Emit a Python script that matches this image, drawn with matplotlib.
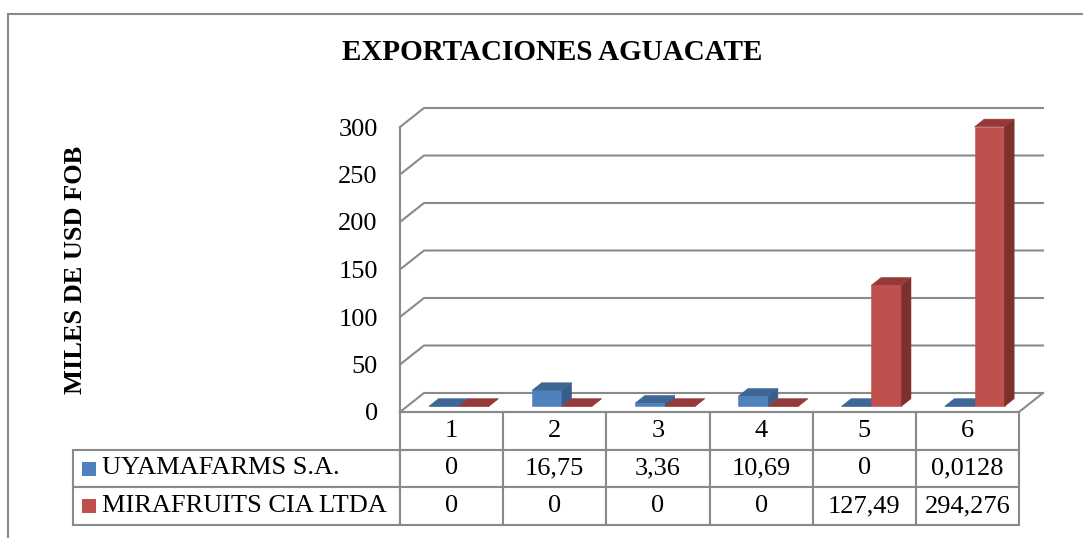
import matplotlib.pyplot as plt
from matplotlib.patches import Polygon, Rectangle

plt.rcParams["font.family"] = ["Liberation Serif", "DejaVu Serif"]

# data
categories = ["1", "2", "3", "4", "5", "6"]
series_names = ["UYAMAFARMS S.A.", "MIRAFRUITS CIA LTDA"]
uyama = [0, 16.75, 3.36, 10.69, 0, 0.0128]
mirafruits = [0, 0, 0, 0, 127.49, 294.276]
y_ticks = [0, 50, 100, 150, 200, 250, 300]

front_colors = ["#4F81BD", "#C0504D"]
top_colors = ["#3F6796", "#953A38"]
side_colors = ["#385D8A", "#7E302E"]
line_gray = "#8A8A8A"

W, H = 1083, 538
fig = plt.figure(figsize=(W / 100, H / 100), dpi=100)

# front face of the 3d box: x 400..1019 px, y 412..127 px
ax = fig.add_axes([400 / W, (H - 412) / H, 619 / W, 285 / H])
n = len(categories)
ax.set_xlim(0, n)
ax.set_ylim(0, 300)

# depth offset of the back wall (24 px right, 19 px up), in data units
DX = n * 24 / 619
DY = 300 * 19 / 285


def pt(x, v, d):
    return (x + d * DX, v + d * DY)


# side wall + back wall grid lines
for v in y_ticks:
    p0, p1, p2 = pt(0, v, 0), pt(0, v, 1), pt(n, v, 1)
    ax.plot([p0[0], p1[0], p2[0]], [p0[1], p1[1], p2[1]],
            color=line_gray, lw=1.5, clip_on=False, zorder=1)
# floor front edge and right side
p0, p1, p2 = pt(0, 0, 0), pt(n, 0, 0), pt(n, 0, 1)
ax.plot([p0[0], p1[0], p2[0]], [p0[1], p1[1], p2[1]],
        color=line_gray, lw=1.5, clip_on=False, zorder=1)

# bars
bw = 0.29
d0, d1 = 0.3, 0.7
for i in range(n):
    for s, vals in enumerate([uyama, mirafruits]):
        v = vals[i]
        x0 = i + 0.5 - bw + s * bw
        x1 = x0 + bw
        faces = [
            ([pt(x0, 0, d0), pt(x1, 0, d0), pt(x1, v, d0), pt(x0, v, d0)], front_colors[s]),
            ([pt(x1, 0, d0), pt(x1, 0, d1), pt(x1, v, d1), pt(x1, v, d0)], side_colors[s]),
            ([pt(x0, v, d0), pt(x1, v, d0), pt(x1, v, d1), pt(x0, v, d1)], top_colors[s]),
        ]
        for verts, c in faces:
            ax.add_patch(Polygon(verts, closed=True, facecolor=c, edgecolor=c,
                                 lw=0.4, clip_on=False, zorder=3))

# axes styling
for side in ["top", "right", "bottom"]:
    ax.spines[side].set_visible(False)
ax.spines["left"].set_color(line_gray)
ax.spines["left"].set_linewidth(1.5)
ax.set_xticks([])
ax.set_yticks(y_ticks)
ax.tick_params(axis="y", length=0, pad=16, labelsize=19)
ax.patch.set_visible(False)


def fmt(v):
    return f"{v:g}".replace(".", ",")


# data table below the chart
cell_text = [[""] + categories,
             [series_names[0]] + [fmt(v) for v in uyama],
             [series_names[1]] + [fmt(v) for v in mirafruits]]
first_w = 327
col_w = 619 / n
total_w = first_w + n * col_w
tbl_bbox = [(73 - 400) / 619, -113 / 285, total_w / 619, 113 / 285]
tbl = ax.table(cellText=cell_text,
               colWidths=[first_w / total_w] + [col_w / total_w] * n,
               cellLoc="center", bbox=tbl_bbox)
tbl.auto_set_font_size(False)
tbl.set_fontsize(19)
for (r, c), cell in tbl.get_celld().items():
    cell.set_edgecolor(line_gray)
    cell.set_linewidth(1.5)
    if c == 0:
        cell._loc = "left"
        cell.PAD = 0.09
        cell.get_text().set_horizontalalignment("left")
    if r == 0 and c == 0:
        cell.visible_edges = "open"

# legend keys inside the table
row_h = tbl_bbox[3] / 3
for s in range(2):
    yc = tbl_bbox[1] + row_h * (1.5 - s)
    ax.add_patch(Rectangle((tbl_bbox[0] + 9 / 619, yc - 7 / 285), 14 / 619, 14 / 285,
                           transform=ax.transAxes, facecolor=front_colors[s],
                           edgecolor="none", clip_on=False, zorder=5))

fig.text(552 / W, 1 - 52 / H, "EXPORTACIONES AGUACATE", ha="center", va="center",
         fontsize=21, fontweight="bold")
fig.text(75 / W, 1 - 270 / H, "MILES DE USD FOB", ha="center", va="center",
         rotation=90, fontsize=19, fontweight="bold")

# outer chart border
fig.patches.append(Rectangle((8 / W, -0.1), 1.2, 1 - 14 / H + 0.1,
                             transform=fig.transFigure, fill=False,
                             edgecolor=line_gray, lw=1.5))

fig.savefig("out.png", dpi=100)
